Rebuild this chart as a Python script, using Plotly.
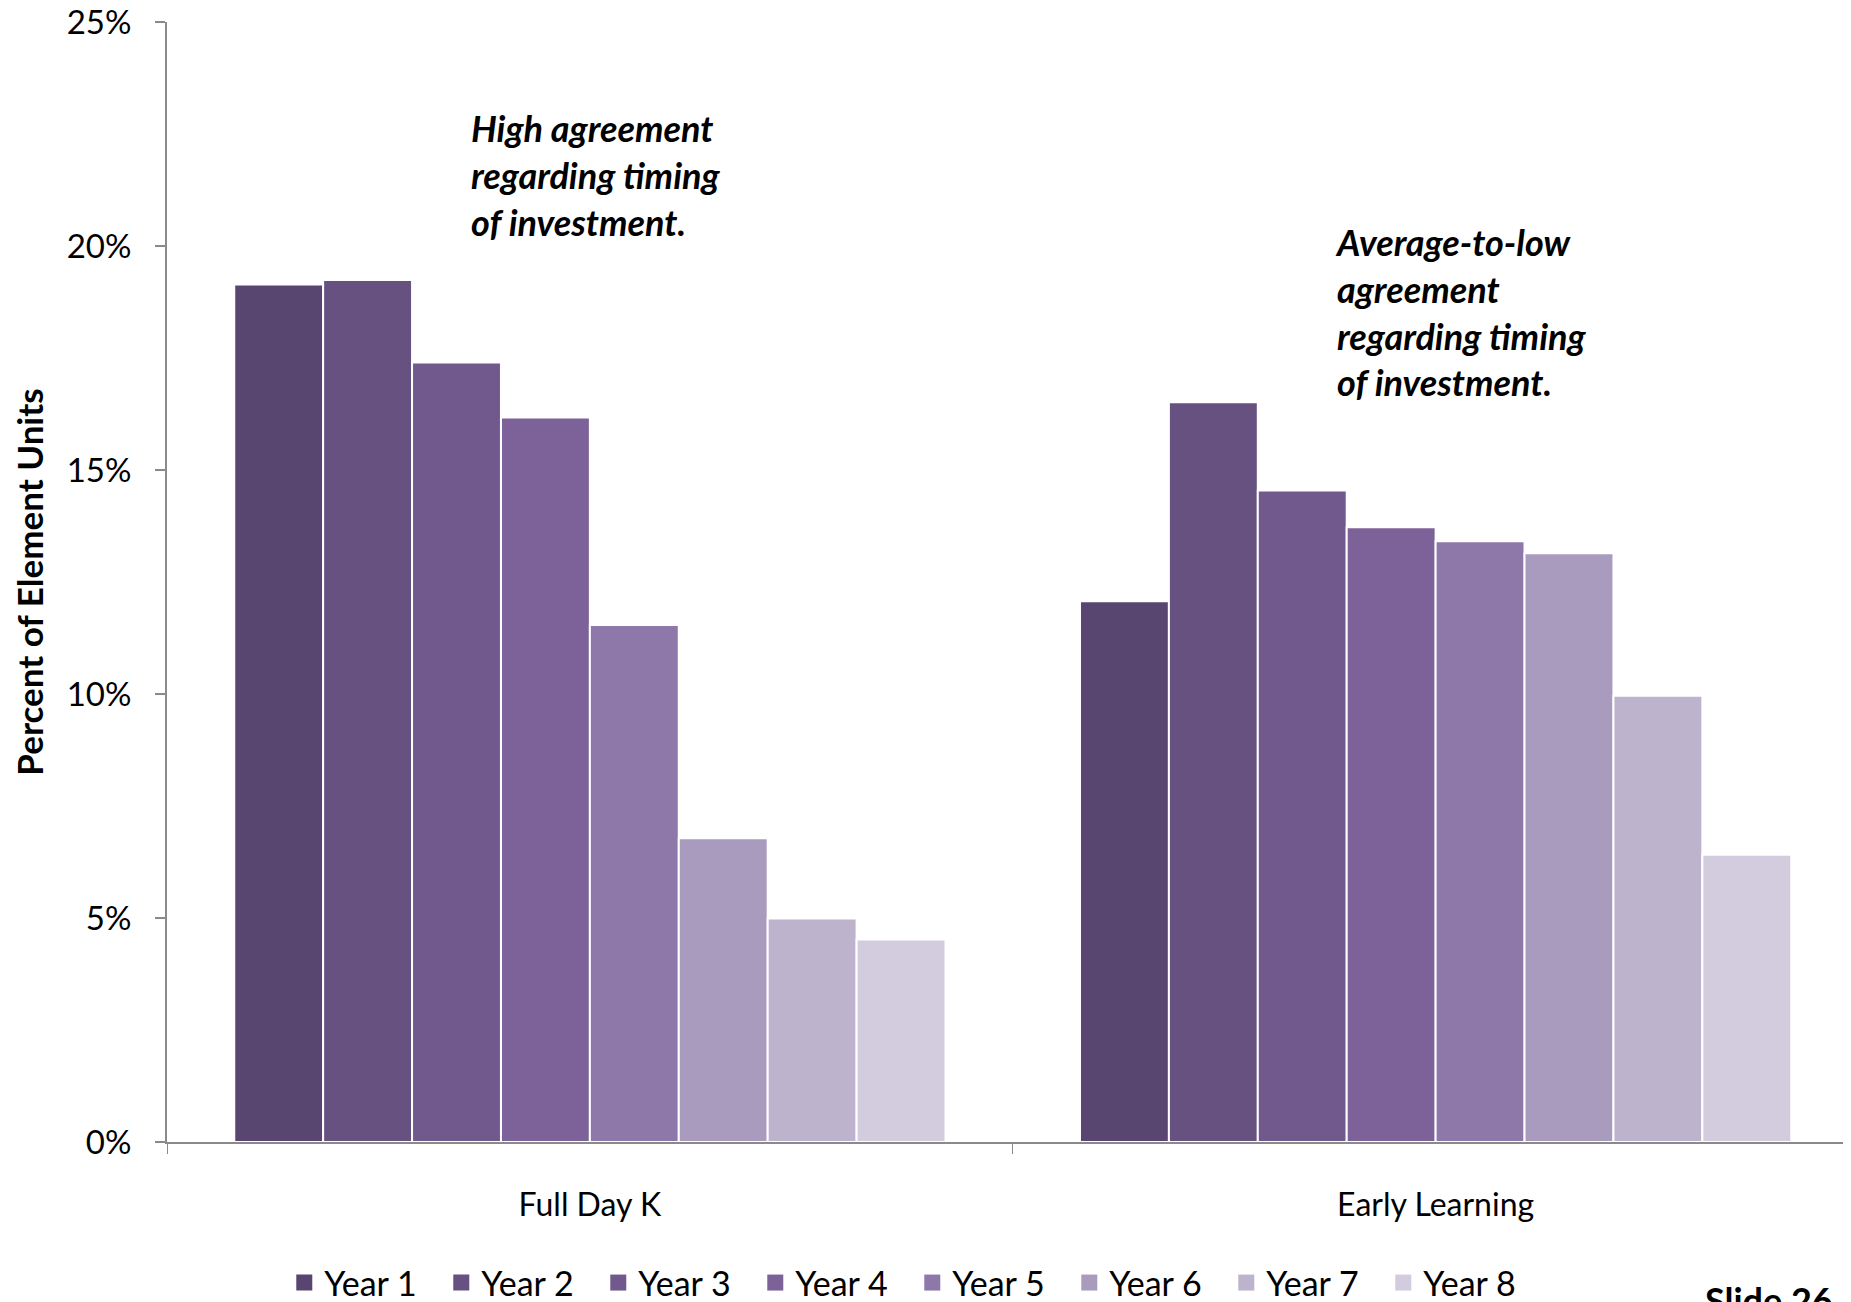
import plotly.graph_objects as go

categories = ["Full Day K", "Early Learning"]
series_names = ["Year 1", "Year 2", "Year 3", "Year 4", "Year 5", "Year 6", "Year 7", "Year 8"]
full_day_k = [19.14, 19.24, 17.40, 16.17, 11.54, 6.78, 4.99, 4.52]
early_learning = [12.07, 16.51, 14.54, 13.72, 13.41, 13.14, 9.96, 6.41]
colors = ["#584570", "#665180", "#71598e", "#7d6199", "#8e78aa", "#a99bbe", "#beb3cd", "#d3cbde"]
y_ticks = [0, 5, 10, 15, 20, 25]
y_tick_labels = ["0%", "5%", "10%", "15%", "20%", "25%"]

OFF = 8  # default body margin of the html page
W, H = 1851 - OFF, 1302 - OFF
L = 166.5 - OFF
T = 21.7 - OFF
B = H - (1142 - OFF)
plot_w = W - L
plot_h = H - T - B

fig = go.Figure()
for i, name in enumerate(series_names):
    fig.add_trace(go.Bar(
        name=name,
        x=categories,
        y=[full_day_k[i], early_learning[i]],
        marker=dict(color=colors[i], line=dict(color="white", width=2)),
        showlegend=False,
        legendgroup=name,
    ))
# legend entries (square swatches)
for i, name in enumerate(series_names):
    fig.add_trace(go.Scatter(
        name=name, x=[None], y=[None], mode="markers",
        marker=dict(symbol="square", size=18, color=colors[i]),
        showlegend=True, legendgroup=name,
    ))

cat_px = 846.0
x_right = -0.5 + plot_w / cat_px

def px_x(x):
    return (x - OFF - L) / plot_w

def px_y(y):
    return (H - B - (y - OFF)) / plot_h

fig.update_layout(
    width=W, height=H,
    margin=dict(l=L, r=0, t=T, b=B, autoexpand=False),
    paper_bgcolor="white", plot_bgcolor="white",
    barmode="group", bargap=0.159, bargroupgap=0,
    font=dict(family="Lato", color="black", size=30),
    showlegend=True,
    legend=dict(
        orientation="h", x=px_x(912), xanchor="center", y=px_y(1283), yanchor="middle",
        font=dict(size=34, family="Lato"), traceorder="normal",
        entrywidth=112, entrywidthmode="pixels", itemwidth=30,
    ),
    xaxis=dict(
        range=[-0.5, x_right], showline=True, linecolor="#8a8a8a", linewidth=2,
        ticks="outside", tickson="boundaries", ticklen=10, tickcolor="#8a8a8a", tickwidth=1,
        tickfont=dict(size=32, family="Lato"), showgrid=False, zeroline=False,
        ticklabelstandoff=34, automargin=False,
    ),
    yaxis=dict(
        range=[0, 25], tickvals=y_ticks, ticktext=y_tick_labels,
        showline=True, linecolor="#8a8a8a", linewidth=2,
        ticks="outside", ticklen=10, tickcolor="#8a8a8a", tickwidth=2,
        tickfont=dict(size=33, family="Lato"), showgrid=False, zeroline=False,
        ticklabelstandoff=17, automargin=False, ticklabeloverflow="allow",
        title=dict(text="<b>Percent of Element Units</b>", font=dict(size=35, family="Lato"), standoff=37),
    ),
    annotations=[
        dict(text="<b><i>High agreement<br>regarding timing<br>of investment.</i></b>",
             xref="paper", yref="paper", x=px_x(469), y=px_y(104), xanchor="left", yanchor="top",
             align="left", showarrow=False, font=dict(size=36, family="Lato")),
        dict(text="<b><i>Average-to-low<br>agreement<br>regarding timing<br>of investment.</i></b>",
             xref="paper", yref="paper", x=px_x(1333), y=px_y(218), xanchor="left", yanchor="top",
             align="left", showarrow=False, font=dict(size=36, family="Lato")),
        dict(text="<b>Slide 26</b>", xref="paper", yref="paper", x=px_x(1703), y=px_y(1300),
             xanchor="left", yanchor="middle", showarrow=False, font=dict(size=36, family="Lato")),
    ],
)

fig.write_html("out.html")
